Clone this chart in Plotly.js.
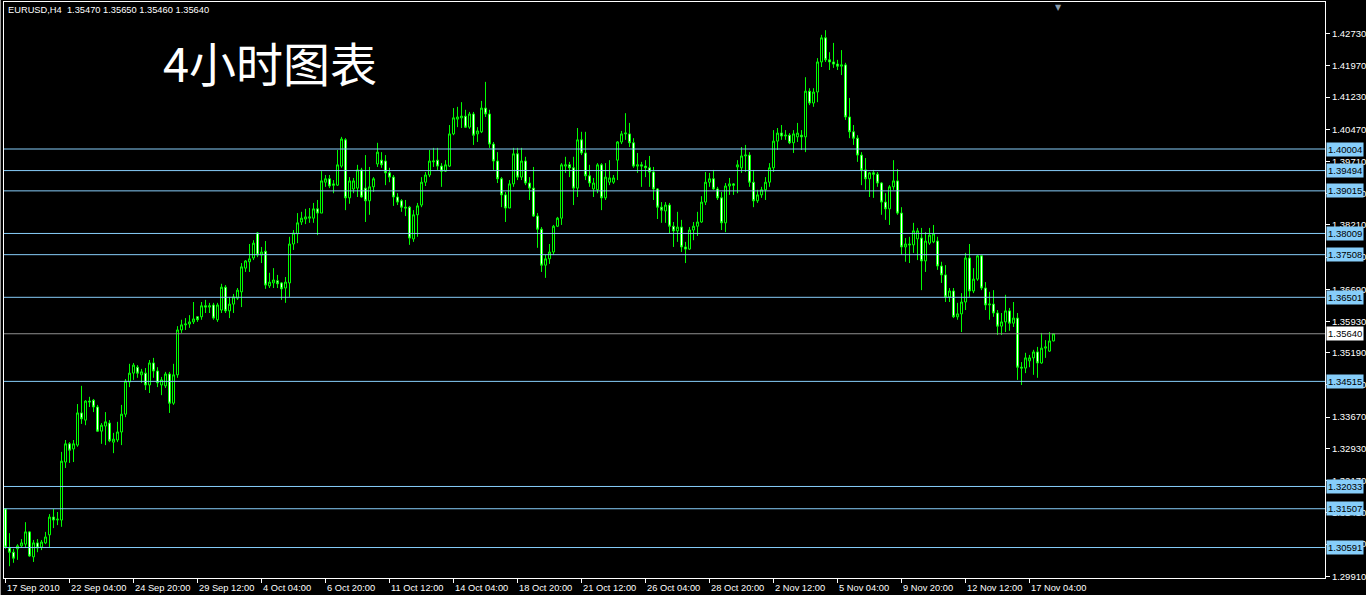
<!DOCTYPE html>
<html>
<head>
<meta charset="utf-8">
<script src="https://cdn.plot.ly/plotly-3.0.1.min.js"></script>
<style>
  html, body { margin: 0; padding: 0; background: #000; }
  #chart { width: 1366px; height: 595px; }
</style>
</head>
<body>
<div id="chart"></div>
<script>
// ---------------- DATA (EURUSD, H4) ----------------
const symbolInfo = "EURUSD,H4";

const open = [
1.3150,1.3058,1.3048,1.3056,1.3063,1.3067,1.3096,1.3037,1.3070,1.3060,
1.3070,1.3089,1.3131,1.3124,1.3124,1.3261,1.3304,1.3292,1.3301,1.3377,
1.3360,1.3405,1.3407,1.3391,1.3334,1.3346,1.3353,1.3308,1.3313,1.3332,
1.3374,1.3450,1.3471,1.3485,1.3467,1.3471,1.3443,1.3495,1.3476,1.3443,
1.3441,1.3469,1.3400,1.3467,1.3573,1.3585,1.3587,1.3592,1.3604,1.3604,
1.3630,1.3627,1.3632,1.3597,1.3620,1.3674,1.3618,1.3634,1.3648,1.3663,
1.3719,1.3734,1.3743,1.3802,1.3750,1.3759,1.3677,1.3684,1.3689,1.3684,
1.3672,1.3684,1.3776,1.3800,1.3828,1.3835,1.3837,1.3837,1.3859,1.3849,
1.3922,1.3930,1.3918,1.3915,1.3960,1.4022,1.3885,1.3906,1.3908,1.3951,
1.3908,1.3878,1.3911,1.3965,1.3974,1.3972,1.3944,1.3934,1.3887,1.3878,
1.3863,1.3863,1.3788,1.3845,1.3868,1.3922,1.3939,1.3970,1.3974,1.3960,
1.3948,1.3960,1.4036,1.4071,1.4074,1.4078,1.4052,1.4083,1.4036,1.4041,
1.4097,1.4083,1.4012,1.3972,1.3930,1.3892,1.3861,1.3918,1.3989,1.3934,
1.3972,1.3920,1.3908,1.3842,1.3811,1.3726,1.3741,1.3757,1.3818,1.3837,
1.3960,1.3963,1.3956,1.3908,1.4022,1.3991,1.3937,1.3906,1.3904,1.3963,
1.3885,1.3922,1.3922,1.3974,1.4017,1.4036,1.4036,1.4015,1.3960,1.3963,
1.3960,1.3956,1.3946,1.3906,1.3863,1.3854,1.3868,1.3818,1.3807,1.3816,
1.3769,1.3764,1.3809,1.3818,1.3828,1.3875,1.3922,1.3930,1.3906,1.3885,
1.3826,1.3913,1.3918,1.3958,1.3956,1.3984,1.3986,1.3922,1.3878,1.3892,
1.3904,1.3922,1.3956,1.4019,1.4038,1.4031,1.4033,1.4015,1.4029,1.4033,
1.4029,1.4137,1.4109,1.4135,1.4206,1.4263,1.4211,1.4206,1.4201,1.4196,
1.4199,1.4076,1.4041,1.4026,1.3986,1.3951,1.3930,1.3944,1.3941,1.3920,
1.3875,1.3859,1.3911,1.3925,1.3849,1.3769,1.3776,1.3774,1.3788,1.3790,
1.3736,1.3778,1.3781,1.3783,1.3724,1.3703,1.3651,1.3665,1.3604,1.3611,
1.3639,1.3743,1.3665,1.3693,1.3748,1.3672,1.3632,1.3634,1.3613,1.3582,
1.3592,1.3618,1.3589,1.3601,1.3485,1.3483,1.3500,1.3507,1.3521,1.3495,
1.3530,1.3523,1.3547
];

const high = [
1.3152,1.3093,1.3056,1.3067,1.3079,1.3119,1.3098,1.3077,1.3079,1.3077,
1.3096,1.3138,1.3150,1.3143,1.3285,1.3313,1.3308,1.3313,1.3398,1.3441,
1.3407,1.3415,1.3410,1.3396,1.3353,1.3379,1.3360,1.3330,1.3356,1.3396,
1.3457,1.3493,1.3495,1.3490,1.3481,1.3483,1.3502,1.3507,1.3485,1.3462,
1.3474,1.3474,1.3493,1.3582,1.3597,1.3601,1.3608,1.3639,1.3606,1.3639,
1.3644,1.3637,1.3637,1.3637,1.3682,1.3679,1.3651,1.3658,1.3672,1.3731,
1.3738,1.3776,1.3785,1.3804,1.3769,1.3783,1.3708,1.3719,1.3703,1.3686,
1.3698,1.3793,1.3809,1.3849,1.3852,1.3859,1.3861,1.3873,1.3880,1.3948,
1.3939,1.3939,1.3927,1.3998,1.4029,1.4026,1.3934,1.3932,1.3963,1.3956,
1.3986,1.3958,1.3934,1.4015,1.3993,1.3986,1.3956,1.3939,1.3896,1.3882,
1.3880,1.3866,1.3856,1.3873,1.3934,1.3946,1.3998,1.4003,1.4003,1.3967,
1.3974,1.4057,1.4097,1.4100,1.4111,1.4093,1.4088,1.4088,1.4052,1.4114,
1.4159,1.4093,1.4017,1.3993,1.3934,1.3899,1.3927,1.4003,1.4003,1.4003,
1.3982,1.3934,1.3958,1.3849,1.3816,1.3750,1.3776,1.3821,1.3840,1.3967,
1.3982,1.3970,1.3982,1.4050,1.4041,1.4041,1.3963,1.3932,1.3967,1.3967,
1.3967,1.3974,1.3939,1.4019,1.4043,1.4085,1.4062,1.4026,1.3991,1.3970,
1.3974,1.3984,1.3958,1.3908,1.3875,1.3875,1.3873,1.3828,1.3852,1.3833,
1.3781,1.3816,1.3828,1.3852,1.3889,1.3946,1.3944,1.3951,1.3911,1.3899,
1.3920,1.3932,1.3920,1.3974,1.4005,1.4010,1.3993,1.3951,1.3904,1.3911,
1.3934,1.3967,1.4045,1.4050,1.4057,1.4045,1.4038,1.4045,1.4062,1.4045,
1.4170,1.4144,1.4144,1.4215,1.4270,1.4281,1.4229,1.4251,1.4211,1.4234,
1.4204,1.4121,1.4057,1.4033,1.3993,1.3979,1.3946,1.3951,1.3946,1.3922,
1.3896,1.3915,1.3974,1.3953,1.3863,1.3790,1.3793,1.3826,1.3814,1.3814,
1.3804,1.3814,1.3821,1.3793,1.3734,1.3726,1.3672,1.3672,1.3637,1.3660,
1.3755,1.3776,1.3719,1.3750,1.3750,1.3686,1.3663,1.3667,1.3620,1.3613,
1.3656,1.3625,1.3639,1.3613,1.3497,1.3519,1.3514,1.3526,1.3533,1.3566,
1.3549,1.3568,1.3565
];

const low = [
1.3056,1.3015,1.3023,1.3030,1.3058,1.3058,1.3037,1.3025,1.3048,1.3053,
1.3067,1.3060,1.3105,1.3112,1.3108,1.3247,1.3259,1.3261,1.3297,1.3351,
1.3348,1.3391,1.3379,1.3332,1.3304,1.3301,1.3308,1.3282,1.3308,1.3301,
1.3367,1.3438,1.3455,1.3460,1.3448,1.3431,1.3424,1.3460,1.3438,1.3419,
1.3436,1.3377,1.3396,1.3460,1.3566,1.3573,1.3578,1.3587,1.3592,1.3597,
1.3613,1.3613,1.3597,1.3592,1.3613,1.3613,1.3601,1.3613,1.3644,1.3627,
1.3710,1.3710,1.3738,1.3745,1.3731,1.3670,1.3672,1.3672,1.3672,1.3644,
1.3637,1.3651,1.3762,1.3778,1.3821,1.3823,1.3826,1.3826,1.3797,1.3849,
1.3911,1.3908,1.3896,1.3913,1.3956,1.3856,1.3871,1.3896,1.3887,1.3885,
1.3828,1.3845,1.3899,1.3958,1.3956,1.3915,1.3922,1.3866,1.3868,1.3852,
1.3842,1.3774,1.3781,1.3793,1.3863,1.3913,1.3934,1.3958,1.3951,1.3911,
1.3946,1.3958,1.4033,1.4052,1.4050,1.4050,1.4048,1.4010,1.4017,1.4038,
1.4076,1.4003,1.3951,1.3920,1.3863,1.3828,1.3861,1.3911,1.3927,1.3927,
1.3915,1.3880,1.3840,1.3767,1.3710,1.3696,1.3729,1.3750,1.3816,1.3821,
1.3944,1.3934,1.3868,1.3887,1.3986,1.3927,1.3911,1.3887,1.3896,1.3856,
1.3880,1.3915,1.3918,1.3927,1.4012,1.4022,1.4005,1.3956,1.3944,1.3911,
1.3934,1.3911,1.3880,1.3835,1.3826,1.3826,1.3802,1.3769,1.3781,1.3757,
1.3731,1.3762,1.3785,1.3795,1.3826,1.3868,1.3911,1.3904,1.3880,1.3809,
1.3804,1.3892,1.3892,1.3896,1.3944,1.3946,1.3911,1.3863,1.3873,1.3885,
1.3880,1.3911,1.3946,1.3998,1.4022,1.4022,1.4012,1.3991,1.4017,1.3998,
1.3993,1.4104,1.4100,1.4111,1.4194,1.4206,1.4187,1.4192,1.4187,1.4175,
1.4069,1.4026,1.4010,1.3970,1.3915,1.3904,1.3887,1.3885,1.3911,1.3845,
1.3833,1.3821,1.3904,1.3845,1.3750,1.3734,1.3731,1.3755,1.3738,1.3667,
1.3710,1.3774,1.3778,1.3715,1.3684,1.3639,1.3639,1.3601,1.3597,1.3568,
1.3620,1.3651,1.3660,1.3689,1.3667,1.3620,1.3597,1.3604,1.3561,1.3561,
1.3568,1.3571,1.3580,1.3455,1.3443,1.3471,1.3485,1.3467,1.3460,1.3493,
1.3507,1.3521,1.3546
];

const close = [
1.3060,1.3048,1.3034,1.3063,1.3070,1.3096,1.3039,1.3070,1.3058,1.3072,
1.3084,1.3131,1.3124,1.3126,1.3263,1.3304,1.3289,1.3304,1.3377,1.3363,
1.3405,1.3403,1.3391,1.3334,1.3348,1.3356,1.3311,1.3315,1.3332,1.3374,
1.3452,1.3471,1.3490,1.3471,1.3474,1.3443,1.3495,1.3476,1.3448,1.3455,
1.3469,1.3400,1.3467,1.3573,1.3585,1.3587,1.3592,1.3599,1.3597,1.3630,
1.3627,1.3630,1.3601,1.3632,1.3674,1.3618,1.3634,1.3651,1.3667,1.3722,
1.3736,1.3741,1.3778,1.3750,1.3757,1.3679,1.3686,1.3691,1.3682,1.3670,
1.3686,1.3776,1.3802,1.3826,1.3837,1.3840,1.3840,1.3859,1.3849,1.3925,
1.3930,1.3913,1.3915,1.3963,1.4024,1.3885,1.3925,1.3925,1.3951,1.3887,
1.3878,1.3911,1.3930,1.3993,1.3963,1.3944,1.3934,1.3887,1.3875,1.3863,
1.3861,1.3790,1.3845,1.3866,1.3922,1.3939,1.3972,1.3972,1.3960,1.3948,
1.3963,1.4036,1.4074,1.4076,1.4078,1.4052,1.4083,1.4033,1.4043,1.4097,
1.4083,1.4012,1.3972,1.3930,1.3892,1.3861,1.3918,1.3989,1.3934,1.3972,
1.3920,1.3908,1.3842,1.3811,1.3726,1.3741,1.3757,1.3818,1.3837,1.3963,
1.3963,1.3956,1.3908,1.4022,1.3991,1.3937,1.3920,1.3920,1.3963,1.3885,
1.3934,1.3932,1.3932,1.4017,1.4036,1.4038,1.4015,1.3960,1.3963,1.3960,
1.3956,1.3946,1.3906,1.3863,1.3856,1.3868,1.3818,1.3807,1.3816,1.3769,
1.3764,1.3809,1.3818,1.3828,1.3875,1.3922,1.3930,1.3906,1.3885,1.3826,
1.3913,1.3918,1.3915,1.3963,1.3984,1.3986,1.3922,1.3878,1.3892,1.3904,
1.3922,1.3956,1.4019,1.4038,1.4031,1.4033,1.4015,1.4036,1.4038,1.4029,
1.4137,1.4109,1.4135,1.4206,1.4263,1.4211,1.4206,1.4201,1.4196,1.4199,
1.4076,1.4041,1.4026,1.3986,1.3951,1.3930,1.3944,1.3941,1.3920,1.3875,
1.3859,1.3911,1.3925,1.3849,1.3769,1.3776,1.3774,1.3807,1.3807,1.3736,
1.3783,1.3797,1.3800,1.3724,1.3703,1.3651,1.3665,1.3604,1.3611,1.3639,
1.3743,1.3665,1.3693,1.3748,1.3672,1.3632,1.3634,1.3613,1.3582,1.3592,
1.3618,1.3589,1.3601,1.3485,1.3483,1.3507,1.3507,1.3521,1.3495,1.3530,
1.3533,1.3547,1.3564
];

// last bar as shown in the header (exact)
const lastBar = { o: 1.35470, h: 1.35650, l: 1.35460, c: 1.35640 };

// horizontal support / resistance levels (light blue lines with labels)
const levels = [1.40004, 1.39494, 1.39015, 1.38009, 1.37508, 1.36501, 1.34515, 1.32033, 1.31507, 1.30591];

// price-scale ticks
const priceTicks = [1.42730, 1.41970, 1.41230, 1.40470, 1.39710, 1.38950, 1.38210, 1.37450,
                    1.36690, 1.35930, 1.35190, 1.34430, 1.33670, 1.32930, 1.32170, 1.31410,
                    1.30670, 1.29910];

// time-scale labels (one every 16 bars)
const timeLabels = ["17 Sep 2010", "22 Sep 04:00", "24 Sep 20:00", "29 Sep 12:00", "4 Oct 04:00",
                    "6 Oct 20:00", "11 Oct 12:00", "14 Oct 04:00", "18 Oct 20:00", "21 Oct 12:00",
                    "26 Oct 04:00", "28 Oct 20:00", "2 Nov 12:00", "5 Nov 04:00", "9 Nov 20:00",
                    "12 Nov 12:00", "17 Nov 04:00"];
const barsPerLabel = 16;

const chartTitle = "4小时图表";

// ---------------- BUILD ----------------
const n = open.length;
open[n - 1] = lastBar.o; high[n - 1] = lastBar.h; low[n - 1] = lastBar.l; close[n - 1] = lastBar.c;
const barIdx = open.map((_, i) => i);
const tickBars = timeLabels.map((_, i) => i * barsPerLabel);
const bid = close[n - 1];

const W = 1366, H = 595;
const M = { l: 4, r: 41, t: 2, b: 17 };
const plotW = W - M.l - M.r, plotH = H - M.t - M.b;
const pxX = x => (x - M.l) / plotW;            // pixel -> paper x
const pxY = y => 1 - (y - M.t) / plotH;        // pixel -> paper y

const LINE = '#00ff00';
const LEVEL = '#87cefa';
const uiFont = 'Liberation Sans, Arial, sans-serif';

const trace = {
  type: 'candlestick',
  x: barIdx, open: open, high: high, low: low, close: close,
  increasing: { line: { color: LINE, width: 1 }, fillcolor: '#000000' },
  decreasing: { line: { color: LINE, width: 1 }, fillcolor: '#ffffff' },
  whiskerwidth: 0,
  hoverinfo: 'skip',
  showlegend: false
};

const shapes = [];
levels.forEach(v => shapes.push({
  type: 'line', xref: 'paper', x0: 0, x1: 1, yref: 'y', y0: v, y1: v,
  line: { color: LEVEL, width: 1 }, layer: 'above'
}));
shapes.push({
  type: 'line', xref: 'paper', x0: 0, x1: 1, yref: 'y', y0: bid, y1: bid,
  line: { color: '#909090', width: 1 }, layer: 'above'
});
// window edge on the far left
shapes.push({
  type: 'line', xref: 'paper', x0: pxX(0.5), x1: pxX(0.5), yref: 'paper', y0: pxY(595), y1: pxY(0),
  line: { color: '#9a9a9a', width: 1 }, layer: 'above'
});

const annotations = [];
// time labels, left-aligned right after each tick
timeLabels.forEach((t, i) => annotations.push({
  xref: 'x', x: tickBars[i], xanchor: 'left', xshift: -1,
  yref: 'paper', y: 0, yanchor: 'middle', yshift: -10,
  text: t, showarrow: false, font: { family: uiFont, size: 9.3, color: '#ffffff' }
}));
// level labels on the price scale
levels.forEach(v => annotations.push({
  xref: 'paper', x: 1, xanchor: 'left', xshift: 1,
  yref: 'y', y: v, yanchor: 'middle',
  text: v.toFixed(5), showarrow: false, bgcolor: LEVEL, borderpad: 1,
  font: { family: uiFont, size: 9.5, color: '#000000' }
}));
// bid label
annotations.push({
  xref: 'paper', x: 1, xanchor: 'left', xshift: 1,
  yref: 'y', y: bid, yanchor: 'middle',
  text: bid.toFixed(5), showarrow: false, bgcolor: '#ffffff', borderpad: 1,
  font: { family: uiFont, size: 9.5, color: '#000000' }
});
// header line
annotations.push({
  xref: 'paper', x: pxX(6), xanchor: 'left',
  yref: 'paper', y: pxY(10), yanchor: 'middle',
  text: symbolInfo + '&nbsp;&nbsp;' + [lastBar.o, lastBar.h, lastBar.l, lastBar.c].map(v => v.toFixed(5)).join(' '),
  showarrow: false, font: { family: uiFont, size: 9.3, color: '#ffffff' }
});
// big chart title
annotations.push({
  xref: 'paper', x: pxX(161), xanchor: 'left',
  yref: 'paper', y: pxY(61), yanchor: 'middle',
  text: chartTitle, showarrow: false,
  font: { family: 'Noto Sans CJK SC, sans-serif', size: 47, color: '#ffffff' }
});
// chart-shift marker
annotations.push({
  xref: 'paper', x: pxX(1058), xanchor: 'center',
  yref: 'paper', y: pxY(1), yanchor: 'top',
  text: '▼', showarrow: false,
  font: { family: 'DejaVu Sans', size: 8, color: '#8899aa' }
});

const layout = {
  width: W, height: H,
  margin: M,
  paper_bgcolor: '#000000', plot_bgcolor: '#000000',
  showlegend: false,
  boxgap: 0.5, boxgroupgap: 0,
  xaxis: {
    type: 'linear',
    range: [(M.l - 5.5) / 4, (W - M.r - 5.5) / 4],
    rangeslider: { visible: false },
    showgrid: false, zeroline: false,
    showline: true, mirror: true, linecolor: '#ffffff', linewidth: 1,
    tickmode: 'array', tickvals: tickBars, ticks: 'outside', ticklen: 4, tickcolor: '#ffffff',
    showticklabels: false,
    fixedrange: true
  },
  yaxis: {
    side: 'right',
    range: [1.29871, 1.43476],
    showgrid: false, zeroline: false,
    showline: true, mirror: true, linecolor: '#ffffff', linewidth: 1,
    tickmode: 'array', tickvals: priceTicks, ticktext: priceTicks.map(v => v.toFixed(5)),
    ticks: 'outside', ticklen: 4, tickcolor: '#ffffff',
    tickfont: { family: uiFont, size: 9.5, color: '#ffffff' },
    fixedrange: true
  },
  shapes: shapes,
  annotations: annotations
};

Plotly.newPlot('chart', [trace], layout, { displayModeBar: false, staticPlot: true });
</script>
</body>
</html>
